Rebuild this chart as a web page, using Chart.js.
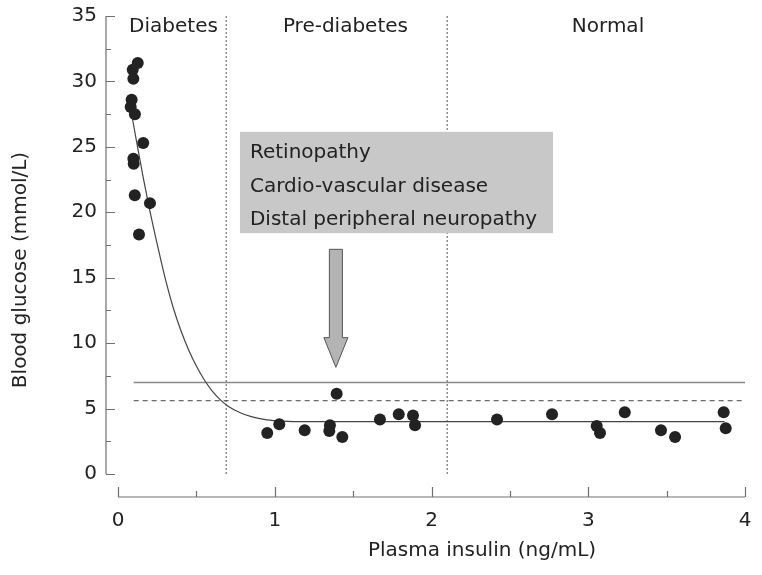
<!DOCTYPE html>
<html lang="en">
<head>
<meta charset="UTF-8">
<title>Blood glucose vs plasma insulin</title>
<script src="https://cdn.jsdelivr.net/npm/chart.js"></script>
<style>
    html, body { margin: 0; padding: 0; background: #ffffff; }
    #wrap { width: 762px; height: 575px; }
</style>
</head>
<body>
<div id="wrap"><canvas id="chart"></canvas></div>
<script>
// measured samples: plasma insulin (ng/mL) and blood glucose (mmol/L)
const insulin = [0.126, 0.094, 0.098, 0.087, 0.081, 0.108, 0.161, 0.098, 0.100, 0.107, 0.204, 0.134,
                 0.952, 1.029, 1.191, 1.352, 1.348, 1.395, 1.431, 1.671, 1.791, 1.882, 1.895,
                 2.418, 2.769, 3.054, 3.075, 3.233, 3.464, 3.554, 3.864, 3.877];
const glucose = [31.4, 30.9, 30.2, 28.6, 28.05, 27.5, 25.3, 24.1, 23.7, 21.3, 20.7, 18.3,
                 3.14, 3.8, 3.34, 3.73, 3.29, 6.13, 2.83, 4.16, 4.57, 4.47, 3.73,
                 4.16, 4.57, 3.67, 3.14, 4.72, 3.34, 2.83, 4.72, 3.5];

// fitted curve
const fitX = [0.087, 0.12, 0.16, 0.2, 0.257, 0.3, 0.35, 0.4, 0.45, 0.5, 0.55, 0.6, 0.65, 0.7, 0.78, 0.85, 0.95, 1.05, 1.2, 3.87];
const fitY = [27.5, 25.3, 22.7, 20.3, 17.2, 15.0, 12.8, 11.0, 9.5, 8.25, 7.2, 6.35, 5.7, 5.2, 4.68, 4.38, 4.14, 4.04, 4.0, 4.0];

const thresholds = [7.0, 5.6];          // solid, dashed
const thresholdSpan = [0.1, 4.0];
const regionBounds = [0.69, 2.1];
const regionNames = ['Diabetes', 'Pre-diabetes', 'Normal'];
const complications = ['Retinopathy', 'Cardio-vascular disease', 'Distal peripheral neuropathy'];

const xTicks = [0, 1, 2, 3, 4];
const xMinorTicks = [0.5, 1.5, 2.5, 3.5];
const yTicks = [0, 5, 10, 15, 20, 25, 30, 35];
const yMinorTicks = [2.5, 7.5, 12.5, 17.5, 22.5, 27.5, 32.5];
const xTitle = 'Plasma insulin (ng/mL)';
const yTitle = 'Blood glucose (mmol/L)';

const FONT = '"DejaVu Sans", sans-serif';
const TEXT = '#222222';
const AXIS = '#707070';

function pairs(xs, ys) {
    return xs.map((v, i) => ({x: v, y: ys[i]}));
}

// axes are drawn detached from the plot area, like in the original figure
const axesPlugin = {
    id: 'detachedAxes',
    afterDraw(chart) {
        const ctx = chart.ctx;
        const x = chart.scales.x, y = chart.scales.y;
        const yAxisX = x.left - 12;
        const xAxisY = y.bottom + 23;
        ctx.save();
        ctx.strokeStyle = AXIS;
        ctx.lineWidth = 1.2;

        ctx.beginPath();
        ctx.moveTo(yAxisX, y.getPixelForValue(35));
        ctx.lineTo(yAxisX, y.getPixelForValue(0));
        yTicks.forEach(v => {
            const p = Math.round(y.getPixelForValue(v)) + 0.5;
            ctx.moveTo(yAxisX, p); ctx.lineTo(yAxisX + 9, p);
        });
        yMinorTicks.forEach(v => {
            const p = Math.round(y.getPixelForValue(v)) + 0.5;
            ctx.moveTo(yAxisX, p); ctx.lineTo(yAxisX + 5, p);
        });
        ctx.moveTo(x.getPixelForValue(0), xAxisY);
        ctx.lineTo(x.getPixelForValue(4), xAxisY);
        xTicks.forEach(v => {
            const p = Math.round(x.getPixelForValue(v)) + 0.5;
            ctx.moveTo(p, xAxisY); ctx.lineTo(p, xAxisY - 10);
        });
        xMinorTicks.forEach(v => {
            const p = Math.round(x.getPixelForValue(v)) + 0.5;
            ctx.moveTo(p, xAxisY); ctx.lineTo(p, xAxisY - 6);
        });
        ctx.stroke();

        ctx.fillStyle = TEXT;
        ctx.font = '20px ' + FONT;
        ctx.textAlign = 'right';
        ctx.textBaseline = 'middle';
        yTicks.forEach(v => ctx.fillText(String(v), yAxisX - 9, y.getPixelForValue(v)));
        ctx.textAlign = 'center';
        xTicks.forEach(v => ctx.fillText(String(v), x.getPixelForValue(v), xAxisY + 24));

        ctx.fillText(xTitle, 482, 551);
        ctx.save();
        ctx.translate(21, 270);
        ctx.rotate(-Math.PI / 2);
        ctx.fillText(yTitle, 0, 0);
        ctx.restore();

        // region names along the top
        const labelAt = [0.354, 1.451, 3.126];
        regionNames.forEach((t, i) => ctx.fillText(t, x.getPixelForValue(labelAt[i]), 27));
        ctx.restore();
    }
};

// grey note box and the arrow pointing down to the threshold
const notePlugin = {
    id: 'noteBox',
    afterDatasetsDraw(chart) {
        const ctx = chart.ctx;
        const x = chart.scales.x, y = chart.scales.y;
        const left = x.getPixelForValue(0.778), right = x.getPixelForValue(2.775);
        const top = y.getPixelForValue(26.15), bottom = y.getPixelForValue(18.4);
        ctx.save();
        ctx.fillStyle = '#c8c8c8';
        ctx.fillRect(left, top, right - left, bottom - top);
        ctx.fillStyle = TEXT;
        ctx.font = '20px ' + FONT;
        ctx.textAlign = 'left';
        ctx.textBaseline = 'middle';
        complications.forEach((t, i) => ctx.fillText(t, left + 10, top + 21 + i * 33.5));

        const cx = x.getPixelForValue(1.39);
        const shaftTop = y.getPixelForValue(17.17);
        const headBase = y.getPixelForValue(10.42);
        const tip = y.getPixelForValue(8.15);
        ctx.beginPath();
        ctx.moveTo(cx - 6.5, shaftTop);
        ctx.lineTo(cx + 6.5, shaftTop);
        ctx.lineTo(cx + 6.5, headBase);
        ctx.lineTo(cx + 12, headBase);
        ctx.lineTo(cx, tip);
        ctx.lineTo(cx - 12, headBase);
        ctx.lineTo(cx - 6.5, headBase);
        ctx.closePath();
        ctx.fillStyle = '#b4b4b4';
        ctx.fill();
        ctx.strokeStyle = '#555555';
        ctx.lineWidth = 1;
        ctx.stroke();
        ctx.restore();
    }
};

const ctx = document.getElementById('chart').getContext('2d');
new Chart(ctx, {
    type: 'scatter',
    data: {
        datasets: [
            {
                label: 'Samples',
                data: pairs(insulin, glucose),
                backgroundColor: '#222222',
                borderWidth: 0,
                pointRadius: 6
            },
            {
                label: 'Fit',
                data: pairs(fitX, fitY),
                showLine: true,
                cubicInterpolationMode: 'monotone',
                borderColor: '#444444',
                borderWidth: 1.2,
                pointRadius: 0
            },
            {
                label: 'Threshold 7.0',
                data: pairs(thresholdSpan, [thresholds[0], thresholds[0]]),
                showLine: true,
                borderColor: '#888888',
                borderWidth: 1.5,
                pointRadius: 0
            },
            {
                label: 'Threshold 5.6',
                data: pairs(thresholdSpan, [thresholds[1], thresholds[1]]),
                showLine: true,
                borderColor: '#444444',
                borderWidth: 1,
                borderDash: [5, 4],
                pointRadius: 0
            },
            {
                label: 'Diabetes bound',
                data: pairs([regionBounds[0], regionBounds[0]], [0, 35]),
                showLine: true,
                borderColor: '#555555',
                borderWidth: 1,
                borderDash: [2, 2],
                pointRadius: 0
            },
            {
                label: 'Normal bound',
                data: pairs([regionBounds[1], regionBounds[1]], [0, 35]),
                showLine: true,
                borderColor: '#555555',
                borderWidth: 1,
                borderDash: [2, 2],
                pointRadius: 0
            }
        ]
    },
    options: {
        responsive: true,
        maintainAspectRatio: false,
        devicePixelRatio: 1,
        animation: false,
        layout: {
            padding: {left: 118, right: 17, top: 16, bottom: 101}
        },
        scales: {
            x: {type: 'linear', min: 0, max: 4, display: false},
            y: {type: 'linear', min: 0, max: 35, display: false}
        },
        plugins: {
            legend: {display: false},
            tooltip: {enabled: false}
        }
    },
    plugins: [axesPlugin, notePlugin]
});
</script>
</body>
</html>
